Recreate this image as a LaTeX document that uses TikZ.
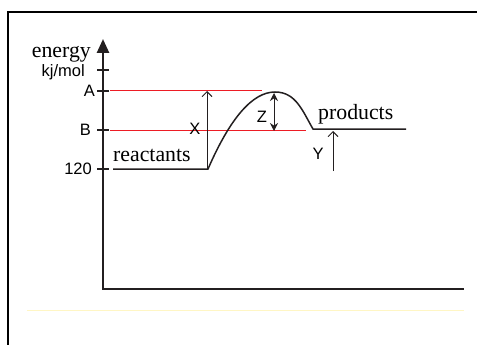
\documentclass[tikz,border=0pt]{standalone}
\usepackage{fontspec}
\setmainfont{Liberation Serif}
\newfontfamily\labelfont{Liberation Sans}
\usetikzlibrary{arrows.meta}
\definecolor{axisgray}{RGB}{35,31,32}
\definecolor{levelred}{RGB}{237,28,36}
\definecolor{paleyellow}{RGB}{255,246,196}

\begin{document}
\begin{tikzpicture}[x=1pt,y=-1pt,
    axislabel/.style={font=\labelfont\fontsize{16.5}{17}\selectfont, inner sep=0pt},
    curvelabel/.style={font=\fontsize{21.8}{22}\selectfont, inner sep=0pt},
    levelline/.style={draw=levelred, line width=1pt},
    tickmark/.style={draw=axisgray, line width=2pt},
    openarrow/.style={draw=axisgray, line width=0.9pt, -{Straight Barb[length=5pt,width=10pt]}}]
    \useasboundingbox (0,0) rectangle (477,345);

    % frame and page rule
    \draw[line width=2pt] (8,345) -- (8,12) -- (477,12);
    \draw[paleyellow, line width=1pt] (27,310) -- (464,310);

    % axes
    \coordinate (ytop) at (103,39);
    \coordinate (origin) at (103,289);
    \coordinate (xend) at (464,289);
    \draw[axisgray, line width=2.6pt, {Triangle[length=14pt,width=12pt]}-] (ytop) -- (origin) -- (xend);

    % ticks
    \foreach \name/\y in {tu/70, tA/91, tB/130, tR/169}{
        \coordinate (\name l) at (97,\y);
        \coordinate (\name r) at (109,\y);
        \draw[tickmark] (\name l) -- (\name r);
    }

    \node[curvelabel, anchor=base east] (energy) at (91,58) {energy};
    \node[axislabel, anchor=base east] (unit) at (85,77) {kj/mol};
    \node[axislabel, anchor=east] (labA) at (95,91) {A};
    \node[axislabel, anchor=east] (labB) at (91,130) {B};
    \node[axislabel, anchor=east] (lab120) at (92,169) {120};

    % levels A and B
    \coordinate (Al) at (110,91);
    \coordinate (Ar) at (262,91);
    \coordinate (Bl) at (110,130);
    \coordinate (Br) at (306,130);
    \draw[levelline] (Al) -- (Ar);
    \draw[levelline] (Bl) -- (Br);

    % energy profile
    \coordinate (rstart) at (113,169);
    \coordinate (rend) at (208,169);
    \coordinate (peak) at (275,92);
    \coordinate (pstart) at (313,129);
    \coordinate (pend) at (406,129);
    \draw[axisgray, line width=1.5pt] (rstart) -- (rend)
        .. controls (230.3,117.7) and (252.7,92) .. (peak)
        .. controls (296,92) and (302.5,111) .. (pstart) -- (pend);

    \node[curvelabel, anchor=base west] (reactants) at (113,161) {reactants};
    \node[curvelabel, anchor=base west] (products) at (318,120) {products};

    % X, Y and Z
    \coordinate (xbot) at (207,169);
    \coordinate (xtop) at (207,91);
    \draw[openarrow] (xbot) -- (xtop);
    \node[axislabel] (labX) at (195,129) {X};

    \coordinate (ybot) at (333,171);
    \coordinate (ytopY) at (333,131);
    \draw[openarrow] (ybot) -- (ytopY);
    \node[axislabel] (labY) at (318,154) {Y};

    \coordinate (ztop) at (274,93);
    \coordinate (zbot) at (274,131);
    \draw[axisgray, line width=1pt, {Stealth[length=8pt,width=8pt]}-{Stealth[length=8pt,width=8pt]}] (ztop) -- (zbot);
    \node[axislabel] (labZ) at (262,117) {Z};
\end{tikzpicture}
\end{document}
